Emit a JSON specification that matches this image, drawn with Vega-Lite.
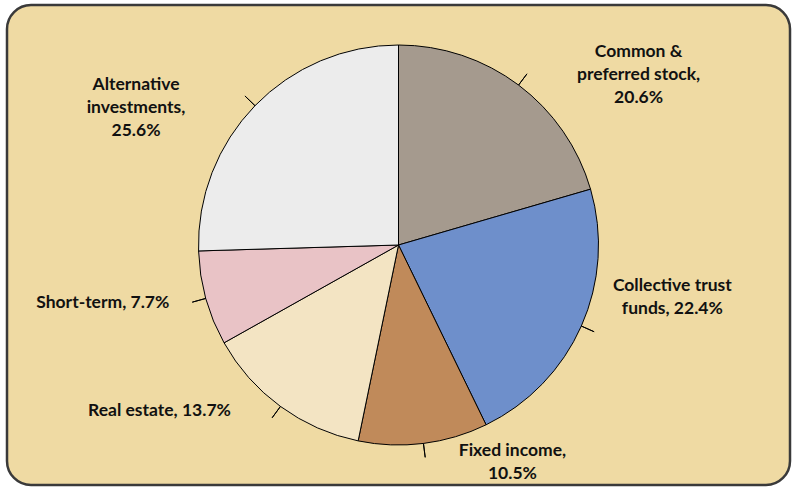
{
  "$schema": "https://vega.github.io/schema/vega-lite/v6.json",
  "width": 794,
  "height": 488,
  "autosize": {"type": "fit", "contains": "padding"},
  "padding": {"left": 5, "top": 3, "right": 2, "bottom": 1},
  "background": "white",
  "config": {
    "view": {"stroke": null},
    "text": {"font": "Lato", "fontWeight": "bold", "fontSize": 17.5, "fill": "#111111", "lineHeight": 23, "lineBreak": "\n", "align": "center", "baseline": "middle"}
  },
  "datasets": {
    "slices": [
      {"idx": 1, "category": "Common & preferred stock", "label": "Common &\npreferred stock,\n20.6%", "value": 20.6},
      {"idx": 2, "category": "Collective trust funds", "label": "Collective trust\nfunds, 22.4%", "value": 22.4},
      {"idx": 3, "category": "Fixed income", "label": "Fixed income,\n10.5%", "value": 10.5},
      {"idx": 4, "category": "Real estate", "label": "Real estate, 13.7%", "value": 13.7},
      {"idx": 5, "category": "Short-term", "label": "Short-term, 7.7%", "value": 7.7},
      {"idx": 6, "category": "Alternative investments", "label": "Alternative\ninvestments,\n25.6%", "value": 25.6}
    ],
    "frame": [{"name": "frame"}]
  },
  "layer": [
    {
      "data": {"name": "frame"},
      "mark": {"type": "rect", "fill": "#EFDAA3", "stroke": "#3a3a3a", "strokeWidth": 2.5, "cornerRadius": 24},
      "encoding": {}
    },
    {
      "data": {"name": "slices"},
      "encoding": {
        "theta": {"field": "value", "type": "quantitative", "stack": true},
        "order": {"field": "idx", "type": "quantitative"}
      },
      "layer": [
        {
          "mark": {"type": "arc", "radius": 200, "stroke": "#000000", "strokeWidth": 1},
          "encoding": {
            "color": {
              "field": "category",
              "type": "nominal",
              "scale": {
                "domain": ["Common & preferred stock", "Collective trust funds", "Fixed income", "Real estate", "Short-term", "Alternative investments"],
                "range": ["#A59A8E", "#6E8FCB", "#C08A5A", "#F3E4C3", "#E9C3C6", "#ECECEC"]
              },
              "legend": null
            }
          }
        },
        {
          "mark": {"type": "arc", "radius": 214, "radius2": 200, "padAngle": 3.1, "stroke": "#000000", "strokeWidth": 1, "fill": null},
          "encoding": {}
        },
        {
          "mark": {"type": "text", "radius": 200, "dx": 120, "dy": -33},
          "encoding": {"text": {"condition": {"test": "datum.idx == 1", "field": "label"}, "value": ""}}
        },
        {
          "mark": {"type": "text", "radius": 200, "dx": 91, "dy": -40},
          "encoding": {"text": {"condition": {"test": "datum.idx == 2", "field": "label"}, "value": ""}}
        },
        {
          "mark": {"type": "text", "radius": 200, "dx": 89, "dy": 8},
          "encoding": {"text": {"condition": {"test": "datum.idx == 3", "field": "label"}, "value": ""}}
        },
        {
          "mark": {"type": "text", "radius": 200, "dx": -121, "dy": 5},
          "encoding": {"text": {"condition": {"test": "datum.idx == 4", "field": "label"}, "value": ""}}
        },
        {
          "mark": {"type": "text", "radius": 200, "dx": -103, "dy": 5},
          "encoding": {"text": {"condition": {"test": "datum.idx == 5", "field": "label"}, "value": ""}}
        },
        {
          "mark": {"type": "text", "radius": 200, "dx": -119, "dy": -21},
          "encoding": {"text": {"condition": {"test": "datum.idx == 6", "field": "label"}, "value": ""}}
        }
      ]
    }
  ]
}
